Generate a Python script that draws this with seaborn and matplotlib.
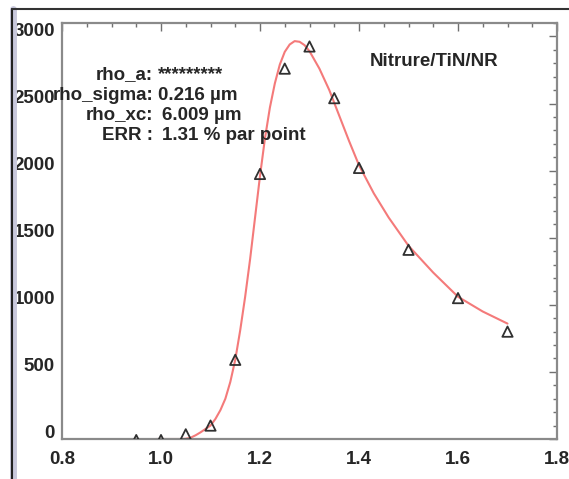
import matplotlib
matplotlib.use("Agg")
import matplotlib.pyplot as plt
import matplotlib.transforms as mtransforms
from matplotlib.lines import Line2D
from matplotlib.ticker import MultipleLocator
import numpy as np
import pandas as pd
import seaborn as sns

# measured points (triangles)
pts_x = [0.95, 1.00, 1.05, 1.10, 1.15, 1.20, 1.25, 1.30, 1.35, 1.40, 1.50, 1.60, 1.70]
pts_y = [-8, -8, 35, 100, 590, 1975, 2760, 2925, 2540, 2020, 1410, 1050, 800]

# fitted curve
fit_x = [0.99, 1.00, 1.02, 1.04, 1.05, 1.06, 1.07, 1.08, 1.09, 1.10, 1.11, 1.12, 1.13,
         1.14, 1.15, 1.16, 1.17, 1.18, 1.19, 1.20, 1.21, 1.22, 1.23, 1.24, 1.25,
         1.26, 1.27, 1.28, 1.29, 1.30, 1.32, 1.34, 1.36, 1.38, 1.40, 1.43, 1.46,
         1.50, 1.55, 1.60, 1.65, 1.70]
fit_y = [0, 0, 0, 0, 2, 10, 28, 50, 75, 100, 150, 215, 300,
         425, 590, 810, 1060, 1340, 1650, 1960, 2240, 2470, 2650, 2790, 2885,
         2940, 2965, 2960, 2935, 2890, 2760, 2600, 2410, 2220, 2040, 1830, 1650,
         1440, 1240, 1060, 950, 860]

info_labels = ["rho_a:", "rho_sigma:", "rho_xc:", "ERR :"]
info_values = ["*********", "0.216 µm", "6.009 µm", "1.31 % par point"]
title_text = "Nitrure/TiN/NR"

sns.set_style("white")
plt.rcParams['font.family'] = ['Liberation Sans', 'DejaVu Sans']
plt.rcParams['font.weight'] = 'bold'

fig = plt.figure(figsize=(5.69, 4.79), dpi=100)
ax = fig.add_axes([62/569, 1 - 439/479, (557 - 62)/569, (439 - 23)/479])

pts = pd.DataFrame({'x': pts_x, 'y': pts_y})
fit = pd.DataFrame({'x': fit_x, 'y': fit_y})

sns.lineplot(data=fit, x='x', y='y', ax=ax, color='#f47a7a', linewidth=1.5,
             sort=False, zorder=2)
sns.scatterplot(data=pts, x='x', y='y', ax=ax, marker='^', s=55,
                facecolor='none', edgecolor='#303030', linewidth=1.3, zorder=3)

ax.set_xlim(0.8, 1.8)
ax.set_ylim(0, 3100)
ax.set_xlabel('')
ax.set_ylabel('')

ax.xaxis.set_major_locator(MultipleLocator(0.2))
ax.xaxis.set_minor_locator(MultipleLocator(0.05))
ax.yaxis.set_major_locator(MultipleLocator(500))
ax.yaxis.set_minor_locator(MultipleLocator(100))
ax.set_xticks(np.arange(0.8, 1.81, 0.2))
ax.set_xticklabels(['0.8', '1.0', '1.2', '1.4', '1.6', '1.8'])

for s in ax.spines.values():
    s.set_color('#8a8a8a')
    s.set_linewidth(1.6)

ax.tick_params(which='both', direction='in', top=True, right=True,
               color='#707070', width=1.0)
ax.tick_params(which='major', length=6)
ax.tick_params(which='minor', length=3)
ax.tick_params(axis='x', which='major', pad=9, labelsize=13.5)
ax.tick_params(axis='y', which='major', pad=5, labelsize=13.5)
for lab in ax.get_xticklabels() + ax.get_yticklabels():
    lab.set_fontweight('bold')
# IDL-like: y labels sit a bit above their ticks
shift = mtransforms.ScaledTranslation(0, 7/100, fig.dpi_scale_trans)
for lab in ax.get_yticklabels():
    lab.set_transform(lab.get_transform() + shift)

# annotation block
ys = [75, 95, 115, 135]
for lbl, val, yp in zip(info_labels, info_values, ys):
    fig.text(153/569, 1 - yp/479, lbl, ha='right', va='center',
             fontsize=13.5, fontweight='bold')
    fig.text(158/569 if val[0] in '0*' else 162/569, 1 - yp/479, val,
             ha='left', va='center', fontsize=13.5, fontweight='bold')

fig.text(434/569, 1 - 62/479, title_text, ha='center', va='center',
         fontsize=13.5, fontweight='bold')

# outer frame of the original screenshot
fig.add_artist(Line2D([13/569, 13/569], [0, 1 - 9/479], transform=fig.transFigure,
                      color='#c8c8dc', linewidth=5))
fig.add_artist(Line2D([12/569, 12/569], [0, 1 - 9/479], transform=fig.transFigure,
                      color='#222222', linewidth=1.5))
fig.add_artist(Line2D([12/569, 1], [1 - 9/479, 1 - 9/479], transform=fig.transFigure,
                      color='#333333', linewidth=1.5))

fig.savefig('out.png', dpi=100)
